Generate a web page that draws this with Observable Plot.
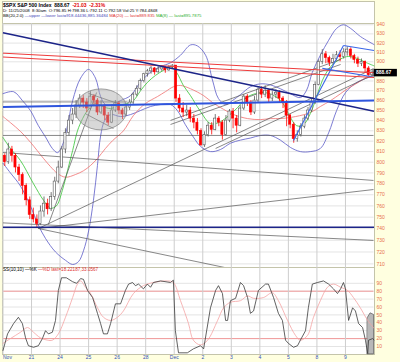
<!DOCTYPE html>
<html>
<head>
<meta charset="utf-8">
<script src="https://cdn.jsdelivr.net/npm/d3@7"></script>
<script src="https://cdn.jsdelivr.net/npm/@observablehq/plot@0.6"></script>
<style>
  html, body { margin: 0; padding: 0; background: #ffffe0; }
  #wrap { position: relative; width: 400px; height: 362px; overflow: hidden; background: #ffffe0; font-family: "Liberation Sans", Arial, sans-serif; }
  .panel { position: absolute; background: #fff; box-sizing: border-box; border: 1px solid #c4c4aa; }
  .t { position: absolute; white-space: nowrap; line-height: 1; }
  .abs { position: absolute; left: 0; }
</style>
</head>
<body>
<div id="wrap">
  <div class="panel" style="left:2px;top:1px;width:373px;height:23px;"></div>
  <div class="panel" style="left:2px;top:23px;width:373px;height:245px;"></div>
  <div class="panel" style="left:2px;top:267px;width:373px;height:88px;"></div>
  <div id="main" class="abs" style="top:0"></div>
  <div id="stoch" class="abs" style="top:267px"></div>
  <div class="t" style="left:3px;top:2.6px;font-size:5px;font-weight:bold;color:#000">$SPX S&amp;P 500 Index&nbsp;&nbsp;888.67&nbsp;&nbsp;<span style="color:#e00000">-21.03&nbsp;&nbsp;-2.31%</span></div>
  <div class="t" style="left:3px;top:9.2px;font-size:4.3px;color:#000">D: 11/25/2008&nbsp;&nbsp;8:30am&nbsp;&nbsp;O:796.85 H:798.36 L:792.11 C:792.58 Vol:25 Y:784.4848</div>
  <div class="t" style="left:3px;top:13.8px;font-size:4.3px;color:#000">BB(20,2.0) <span style="color:#4a4ab8">&#8212;upper &#8212;lower last=918.44436,885.36484</span> <span style="color:#e03030">MA(20) &#8212; last=889.835</span> <span style="color:#30b030">MA(8) &#8212; last=895.7875</span></div>
  <div class="t" style="left:3px;top:268.2px;font-size:4.6px;color:#000">SS(10,10) &#8212;%K <span style="color:#e03030">&#8212;%D last=18.22187,33.0567</span></div>
</div>
<script>
// ---------- data ----------
const dayLabels = ["Nov","21","24","25","26","28","Dec","2","3","4","5","8","9"];
const dayStarts = [0,1,2,3,4,5,6,7,8,9,10,11,12];
const barsPerDay = 8;
const firstOpen = 806;
const closes = [
  800,812,806,795,788,778,765,752,
  748,744,755,762,757,768,782,795,
  812,828,840,846,855,862,858,852,
  864,860,848,855,845,838,850,857,
  850,846,853,858,866,872,880,887,
  890,893,889,892,894,891,894,896,
  862,852,848,850,842,838,830,816,
  826,835,831,842,838,826,840,849,
  842,835,852,864,858,848,860,871,
  866,870,862,866,868,862,858,845,
  836,822,826,834,842,850,858,876,
  900,908,904,899,903,907,905,910,
  913,906,902,898,900,893,886,888.67];
const highs = [
  808,818,815,808,798,790,780,768,
  758,752,760,768,766,772,786,801,
  815,832,845,852,860,866,865,862,
  869,866,862,860,856,848,856,860,
  859,852,856,861,868,875,882,888,
  892,895,894,895,896,895,896,897,
  896,866,858,855,853,846,842,832,
  829,838,838,846,844,840,845,851,
  852,845,855,866,866,860,864,873,
  874,875,871,869,871,870,864,860,
  846,838,830,837,845,853,862,879,
  902,913,911,906,908,911,912,914,
  916,915,908,905,903,901,895,892];
const lows = [
  796,798,800,790,782,770,760,748,
  745,741,743,750,752,755,765,780,
  794,808,825,836,842,852,852,848,
  850,854,845,846,840,835,837,848,
  846,841,844,850,856,864,870,878,
  884,887,886,888,890,888,890,892,
  858,848,843,844,838,832,826,815,
  814,824,826,830,834,821,825,838,
  832,828,834,850,854,845,846,858,
  862,863,858,859,862,858,852,834,
  832,818,819,824,832,840,848,856,
  875,897,898,895,897,901,900,903,
  906,903,898,894,895,888,885,884];
const lastClose = 888.67;

const priceTicks = [940,930,920,910,900,890,880,870,860,850,840,830,820,810,800,790,780,770,760,750,740,730,720,710];
const priceLabels = [940,930,920,910,900,880,870,860,850,840,830,820,810,800,790,780,770,760,750,740,730,720,710];
const stochTicks = [90,80,70,60,50,40,30,20,10];
const stochBands = [80,20];

const bbUpperX = [0,0.37,0.68,0.96,1.24,1.49,1.73,1.91,2.08,2.26,2.44,2.72,3.00,3.24,3.42,3.59,3.84,4.12,4.47,4.82,5.17,5.52,5.87,6.22,6.57,6.81,7.10,7.34,7.55,7.80,8.04,8.32,8.67,9.02,9.37,9.72,10.07,10.42,10.63,10.84,11.12,11.41,11.69,11.93,12.18,12.53,13.00];
const bbUpper  = [867,869,860,850,835,824,813,809,816,835,860,883,892,883,864,856,856,860,865,879,889,895,899,907,918,917,907,881,862,856,860,866,874,877,876,872,867,863,870,889,907,923,936,940,936,927,918.44];
const bbLowerX = [0,0.26,0.61,0.96,1.24,1.49,1.84,2.19,2.44,2.65,2.82,3.00,3.17,3.31,3.42,3.56,3.77,4.12,4.47,4.82,5.17,5.52,5.87,6.11,6.39,6.67,6.92,7.27,7.62,7.97,8.32,8.67,9.02,9.37,9.72,10.07,10.42,10.77,11.12,11.41,11.69,12.00,12.35,12.70,13.00];
const bbLower  = [799,790,778,760,743,731.5,720,713,709.5,712,721,738,765,797,825,840,846,844,846,850,854,856,856,850,836,824,815,810,812,818,821,823,825.5,825.5,821,814,810,810,813,828,850,868,877.5,882.5,885.36];
const ma20X = [0,0.26,0.61,0.96,1.42,1.66,1.91,2.19,2.54,2.82,3.07,3.31,3.59,3.84,4.22,4.57,4.99,5.41,5.69,5.97,6.22,6.57,7.03,7.34,7.62,8.08,8.57,9.02,9.37,9.72,10.25,10.77,11.12,11.48,11.83,12.07,12.42,12.78,13.00];
const ma20  = [844,838,829.5,819,803.5,796,789.5,786,788.5,792,797,803.5,813,820.5,830,845,857,864,869,874,875.4,872,865,858,853,846,842,841,842,842,844,848,854,860,867,872,878,885,889.84];
const ma8X = [0,0.26,0.61,1.07,1.42,1.66,1.87,2.08,2.26,2.44,2.61,2.79,2.96,3.24,3.49,3.77,4.05,4.33,4.57,4.82,5.06,5.34,5.62,5.87,6.08,6.32,6.57,6.92,7.27,7.55,7.83,8.22,8.53,8.85,9.20,9.55,9.79,10.00,10.29,10.53,10.77,10.98,11.19,11.48,11.83,12.11,12.46,12.74,13.00];
const ma8  = [823.5,813,801.6,780,765,758,760,774,792,811,830,842,850,857,854,852,855,857,860,870,878.5,885.7,891,895,889,875.4,865,849,837,838,843,853,863,867,868,864,858,847,835,836,847,863,880.5,895,903,905.7,903,899,895.79];

// trend lines drawn on the chart: [day1, price1, day2, price2]
const grayTrend = [
  [1.24,740.1,13,893.1],
  [7.45,813,13,886.7],
  [5.87,840.2,11.83,902.5],
  [5.87,836.2,11.83,897.2],
  [0,809.2,13,783.0],
  [1.24,740.1,13,774.8],
  [0,745.0,13,729.8],
  [1.24,740.1,7.97,706],
  [1.59,743.6,3.28,868.2],
  [0,825.5,13,825.5],
  [0,858.6,4.36,858.6],
  [3.00,867.2,4.22,855.1],
  [2.89,846.8,3.87,832.3]
];
const navyTrend = [[0,931.3,13,849.2],[0,741.2,13,741.2]];
const blueTrend = [[0,853.5,13,860.1]];
const blueFlag = [[10.18,820.6,11.93,917.4],[11.93,917.4,13,912.1],[11.19,893.1,12.88,884.6]];
const redTrend = [[0,909.2,13,888.5],[0,905.1,13,883.6]];
const circled = [{x1:2.54, x2:4.36, y1:830.4, y2:871.3}];

const kX = [0,0.16,0.37,0.54,0.68,0.79,0.89,1.07,1.24,1.38,1.49,1.59,1.73,1.84,1.94,2.05,2.22,2.44,2.58,2.72,2.82,2.96,3.14,3.31,3.42,3.52,3.66,3.77,3.94,4.12,4.29,4.40,4.54,4.64,4.75,4.92,5.06,5.17,5.27,5.52,5.87,5.97,6.04,6.15,6.46,6.67,6.92,7.03,7.27,7.45,7.55,7.69,7.80,7.87,7.97,8.15,8.32,8.43,8.57,8.67,8.78,8.95,9.20,9.30,9.48,9.65,9.79,9.90,10.00,10.18,10.32,10.42,10.60,10.70,10.84,11.02,11.23,11.41,11.58,11.72,11.83,11.93,12.00,12.11,12.25,12.35,12.46,12.60,12.70,12.78,12.81,12.95,13.00];
const kVal = [5,26,39,47,39,21,11,9,11,20,30,26,28,43,81,97,97,92,90,96,95,81,72,52,39,26,26,39,64,64,81,89,91,87,89,83,89,85,91,93,91,94,30,2,2,7,11,7,59,81,87,77,43,43,68,71,91,87,72,52,55,81,89,89,72,52,43,18,14,9,11,18,30,59,89,91,93,89,83,77,83,91,83,43,59,55,39,34,18,1,18,20,18.22];
const dX = [0,0.26,0.61,0.86,1.07,1.31,1.56,1.73,1.94,2.19,2.44,2.61,2.72,2.89,3.07,3.31,3.52,3.77,4.01,4.22,4.57,4.92,5.27,5.76,5.97,6.22,6.50,6.67,6.92,7.17,7.52,7.73,7.97,8.32,8.57,8.78,9.13,9.44,9.65,9.97,10.25,10.42,10.67,10.88,11.12,11.37,11.58,11.83,12.07,12.28,12.52,12.78,13.00];
const dVal = [14,20,28,34,28,21,18,18,26,47,72,89,93,85,77,59,47,43,47,55,77,87,91,93,91,68,39,18,12,18,43,59,66,68,74,71,72,78,68,43,24,18,24,47,68,85,89,85,81,72,59,43,33.06];
const shadeX = [12.78,12.88,13.00];
const shadeV = [46,52,50];

// ---------- build ----------
const pts = (xs, ys) => xs.map((x, i) => ({x, y: ys[i]}));
const seg = (arr) => arr.map(([x1, y1, x2, y2]) => ({x1, y1, x2, y2}));
const bars = closes.map((c, j) => ({
  x: Math.floor(j / barsPerDay) + (j % barsPerDay + 0.5) / barsPerDay,
  open: j ? closes[j - 1] : firstOpen, close: c, high: highs[j], low: lows[j]
}));
const up = bars.filter(d => d.close >= d.open);
const down = bars.filter(d => d.close < d.open);
const hw = 0.3 / barsPerDay;
const labelColor = "#e8704a";
const font = "Liberation Sans, Arial, sans-serif";

const main = Plot.plot({
  width: 400, height: 268,
  marginLeft: 2.5, marginRight: 26.5, marginTop: 23, marginBottom: 1,
  x: {domain: [0, 13], axis: null},
  y: {type: "log", domain: [707, 941.4], axis: null},
  style: {background: "transparent", fontFamily: font, overflow: "visible"},
  marks: [
    Plot.ruleY(priceTicks, {stroke: "#e4e4e4", strokeWidth: 1}),
    Plot.ruleX(dayStarts, {stroke: "#cdcdcd", strokeWidth: 1}),
    Plot.line(pts(bbUpperX, bbUpper), {x: "x", y: "y", stroke: "#5a5ac8", strokeWidth: 0.8, curve: "catmull-rom"}),
    Plot.line(pts(bbLowerX, bbLower), {x: "x", y: "y", stroke: "#5a5ac8", strokeWidth: 0.8, curve: "catmull-rom"}),
    Plot.line(pts(ma20X, ma20), {x: "x", y: "y", stroke: "#f07070", strokeWidth: 0.8, curve: "catmull-rom"}),
    Plot.line(pts(ma8X, ma8), {x: "x", y: "y", stroke: "#33c433", strokeWidth: 0.8, curve: "catmull-rom"}),
    Plot.link(seg(grayTrend), {x1: "x1", y1: "y1", x2: "x2", y2: "y2", stroke: "#555", strokeWidth: 0.7, clip: true}),
    Plot.ruleX(up, {x: "x", y1: "low", y2: "high", stroke: "#555", strokeWidth: 0.8}),
    Plot.ruleX(down, {x: "x", y1: "low", y2: "high", stroke: "#ff0000", strokeWidth: 0.8}),
    Plot.rect(up, {x1: d => d.x - hw, x2: d => d.x + hw, y1: "open", y2: "close", fill: "#fff", stroke: "#555", strokeWidth: 0.6}),
    Plot.rect(down, {x1: d => d.x - hw, x2: d => d.x + hw, y1: "open", y2: "close", fill: "#ff0000", stroke: "#ff0000", strokeWidth: 0.6}),
    Plot.rect(circled, {x1: "x1", x2: "x2", y1: "y1", y2: "y2", rx: 26, ry: 20.5, fill: "#a8a8a8", fillOpacity: 0.45, stroke: "#888", strokeWidth: 0.8}),
    Plot.link(seg(redTrend), {x1: "x1", y1: "y1", x2: "x2", y2: "y2", stroke: "#ee3b3b", strokeWidth: 1}),
    Plot.link(seg(navyTrend), {x1: "x1", y1: "y1", x2: "x2", y2: "y2", stroke: "#1c2488", strokeWidth: 1.5}),
    Plot.link(seg(blueTrend), {x1: "x1", y1: "y1", x2: "x2", y2: "y2", stroke: "#2f55dd", strokeWidth: 2}),
    Plot.link(seg(blueFlag), {x1: "x1", y1: "y1", x2: "x2", y2: "y2", stroke: "#3a66e8", strokeWidth: 1.1}),
    Plot.text(priceLabels, {x: 13, y: d => d, text: d => String(d), dx: 2.5, textAnchor: "start", fill: labelColor, fontSize: 5}),
    Plot.ruleY([lastClose], {x1: 13, x2: 13.82, stroke: "#000", strokeWidth: 7.5}),
    Plot.text([lastClose], {x: 13, y: d => d, text: d => d.toFixed(2), dx: 2, textAnchor: "start", fill: "#fff", fontWeight: "bold", fontSize: 5})
  ]
});
document.getElementById("main").appendChild(main);

const stoch = Plot.plot({
  width: 400, height: 95,
  marginLeft: 2.5, marginRight: 26.5, marginTop: 0, marginBottom: 8.1,
  x: {domain: [0, 13], axis: null},
  y: {domain: [0, 110], axis: null},
  style: {background: "transparent", fontFamily: font, overflow: "visible"},
  marks: [
    Plot.ruleY(stochTicks, {stroke: "#e4e4e4", strokeWidth: 1}),
    Plot.ruleY(stochBands, {stroke: "#f29a9a", strokeWidth: 1}),
    Plot.ruleX(dayStarts, {stroke: "#cdcdcd", strokeWidth: 1}),
    Plot.areaY(pts(shadeX, shadeV), {x: "x", y: "y", fill: "#b8b8b8", stroke: "#444", strokeWidth: 0.6}),
    Plot.line(pts(dX, dVal), {x: "x", y: "y", stroke: "#f4a3a3", strokeWidth: 0.8, curve: "catmull-rom"}),
    Plot.line(pts(kX, kVal), {x: "x", y: "y", stroke: "#3a3a3a", strokeWidth: 0.8}),
    Plot.text(stochTicks, {x: 13, y: d => d, text: d => String(d), dx: 2.5, textAnchor: "start", fill: labelColor, fontSize: 5}),
    Plot.text(dayStarts.slice(0, 1), {x: d => d, frameAnchor: "bottom", dy: 4.2, text: d => dayLabels[d], textAnchor: "start", fill: "#3050b8", fontSize: 5}),
    Plot.text(dayStarts.slice(1), {x: d => d, frameAnchor: "bottom", dy: 4.2, text: d => dayLabels[d], textAnchor: "middle", fill: "#3050b8", fontSize: 5})
  ]
});
document.getElementById("stoch").appendChild(stoch);
</script>
</body>
</html>
